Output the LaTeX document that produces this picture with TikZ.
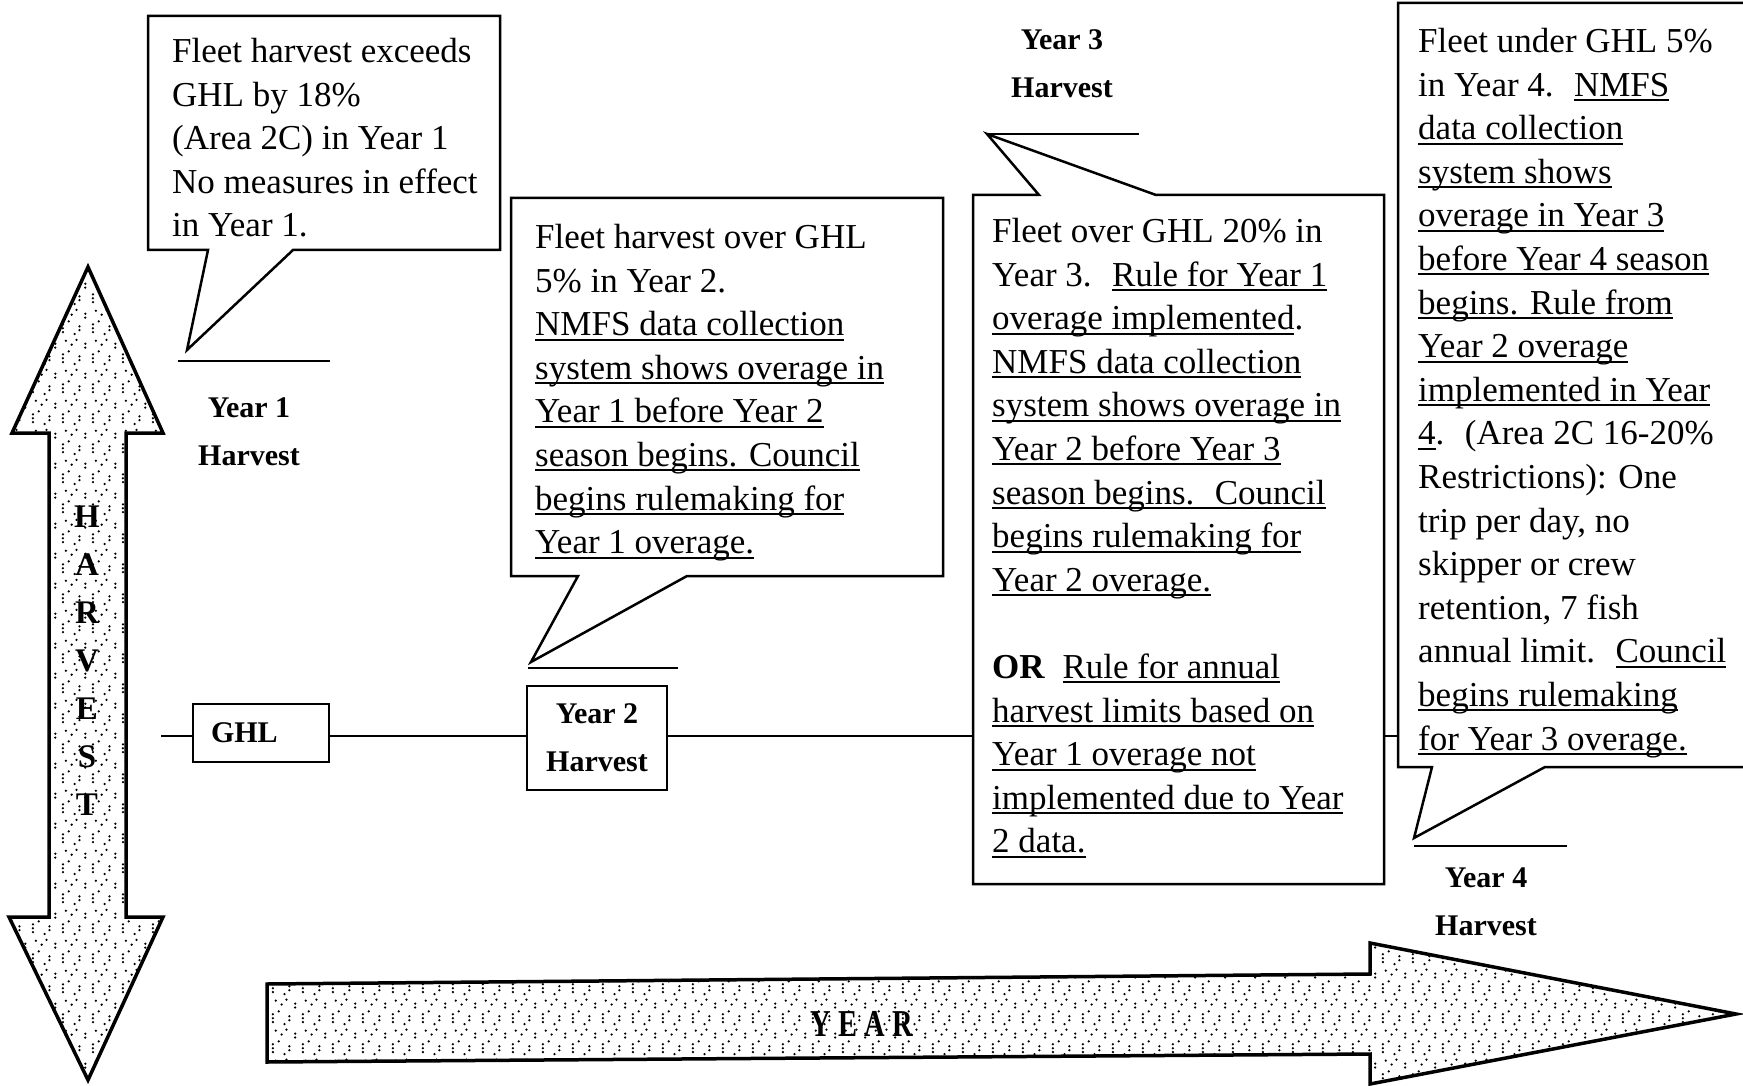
\documentclass[tikz,border=0pt]{standalone}
\usepackage{fontspec}
\setmainfont{Liberation Serif}
\usepackage{graphicx}
\usetikzlibrary{calc,patterns}

\newcommand{\undl}[1]{\setbox0\hbox{#1}\rlap{\rule[-5pt]{\wd0}{2pt}}\box0}

\pgfdeclarepatternformonly{stipple}{\pgfqpoint{0pt}{0pt}}{\pgfqpoint{30pt}{30pt}}{\pgfqpoint{30pt}{30pt}}{%
  \pgfpathcircle{\pgfqpoint{3pt}{4pt}}{1.3pt}\pgfpathcircle{\pgfqpoint{3pt}{8pt}}{1.3pt}
  \pgfpathcircle{\pgfqpoint{3pt}{12pt}}{1.3pt}\pgfpathcircle{\pgfqpoint{12pt}{22pt}}{1.3pt}
  \pgfpathcircle{\pgfqpoint{20pt}{6pt}}{1.3pt}\pgfpathcircle{\pgfqpoint{20pt}{10pt}}{1.3pt}
  \pgfpathcircle{\pgfqpoint{26pt}{19pt}}{1.3pt}\pgfpathcircle{\pgfqpoint{26pt}{23pt}}{1.3pt}
  \pgfpathcircle{\pgfqpoint{9pt}{15pt}}{1.3pt}\pgfpathcircle{\pgfqpoint{15pt}{2pt}}{1.3pt}
  \pgfpathcircle{\pgfqpoint{17pt}{27pt}}{1.3pt}\pgfpathcircle{\pgfqpoint{6pt}{26pt}}{1.3pt}
  \pgfusepath{fill}}

\tikzset{
  callout/.style={draw, line width=2.5pt, fill=white, line join=miter},
  bodytext/.style={anchor=north west, align=left, inner sep=0pt, font=\fontsize{35}{43.6}\selectfont},
  yearlabel/.style={align=center, inner sep=0pt, font=\bfseries\fontsize{30}{48}\selectfont},
  yearbox/.style={draw, line width=2.5pt, fill=white, align=center, font=\bfseries\fontsize{30}{48}\selectfont},
  bigarrow/.style={draw, line width=3.5pt, line join=miter, preaction={fill=white}, pattern=stipple, pattern color=black},
  arrowletter/.style={inner sep=0pt, font=\bfseries\fontsize{33}{36}\selectfont},
  tick/.style={line width=2.5pt}
}

\begin{document}
\begin{tikzpicture}[x=1pt,y=-1pt]
\useasboundingbox (0,0) rectangle (1743,1086);
\fill[white] (0,0) rectangle (1743,1086);
\draw[bigarrow] (88,267)--(163,433)--(126,433)--(126,917)--(163,917)--(88,1080)--(9,917)--(49,917)--(49,433)--(12,433)--cycle;
\foreach \c [count=\i] in {H,A,R,V,E,S,T}
  \node[arrowletter] (harv\i) at (87,{517+48*(\i-1)}) {\c};
\draw[bigarrow] (267,984)--(1370,974)--(1370,943)--(1736,1014)--(1370,1084)--(1370,1054)--(267,1062)--cycle;
\node[arrowletter] (year) at (862,1024) {\scalebox{0.75}[1]{\fontsize{38}{40}\selectfont Y E A R}};
\coordinate (tl0) at (161,736); \coordinate (tl1) at (1400,736);
\draw[line width=2pt] (tl0)--(tl1);
\node[yearbox, text width=100pt, inner xsep=18pt, minimum height=58pt, align=left] (ghl) at (261,733) {GHL};
\node[yearbox, minimum width=140pt, minimum height=104pt, inner sep=0pt] (yr2) at (597,738) {Year 2\\Harvest};
\coordinate (tip1) at (187,350); \coordinate (tip2) at (531,662);
\coordinate (tip3) at (987,134); \coordinate (tip4) at (1414,838);
\draw[callout] (148,16)--(500,16)--(500,250)--(293,250)--(tip1)--(208,250)--(148,250)--cycle;
\draw[tick] (178,361)--(330,361);
\draw[callout] (511,198)--(943,198)--(943,576)--(687,576)--(tip2)--(578,576)--(511,576)--cycle;
\draw[tick] (528,668)--(678,668);
\draw[callout] (973,195)--(1039,195)--(tip3)--(1156,195)--(1384,195)--(1384,884)--(973,884)--cycle;
\draw[tick] (tip3)--(1139,134);
\draw[callout] (1398,3)--(1760,3)--(1760,767)--(1545,767)--(tip4)--(1432,767)--(1398,767)--cycle;
\draw[tick] (tip4|-0,846)--(1567,846);
\node[yearlabel] (y1) at (249,432) {Year 1\\Harvest};
\node[yearlabel] (y3) at (1062,64) {Year 3\\Harvest};
\node[yearlabel] (y4) at (1486,902) {Year 4\\Harvest};
\node[bodytext] (t1) at (172,38) {Fleet harvest exceeds\\GHL by 18\%\\(Area 2C) in Year 1\\No measures in effect\\in Year 1.};
\node[bodytext] (t2) at (535,224) {Fleet harvest over GHL\\5\% in Year 2.\\\undl{NMFS data collection}\\\undl{system shows overage in}\\\undl{Year 1 before Year 2}\\\undl{season begins. Council}\\\undl{begins rulemaking for}\\\undl{Year 1 overage.}};
\node[bodytext] (t3) at (992,218) {Fleet over GHL 20\% in\\Year 3.~ \undl{Rule for Year 1}\\\undl{overage implemented}.\\\undl{NMFS data collection}\\\undl{system shows overage in}\\\undl{Year 2 before Year 3}\\\undl{season begins.~ Council}\\\undl{begins rulemaking for}\\\undl{Year 2 overage.}\\[43.6pt]\textbf{OR}~ \undl{Rule for annual}\\\undl{harvest limits based on}\\\undl{Year 1 overage not}\\\undl{implemented due to Year}\\\undl{2 data.}};
\node[bodytext] (t4) at (1418,28) {Fleet under GHL 5\%\\in Year 4.~ \undl{NMFS}\\\undl{data collection}\\\undl{system shows}\\\undl{overage in Year 3}\\\undl{before Year 4 season}\\\undl{begins. Rule from}\\\undl{Year 2 overage}\\\undl{implemented in Year}\\\undl{4}.~ (Area 2C 16-20\%\\Restrictions): One\\trip per day, no\\skipper or crew\\retention, 7 fish\\annual limit.~ \undl{Council}\\\undl{begins rulemaking}\\\undl{for Year 3 overage.}};
\end{tikzpicture}
\end{document}
